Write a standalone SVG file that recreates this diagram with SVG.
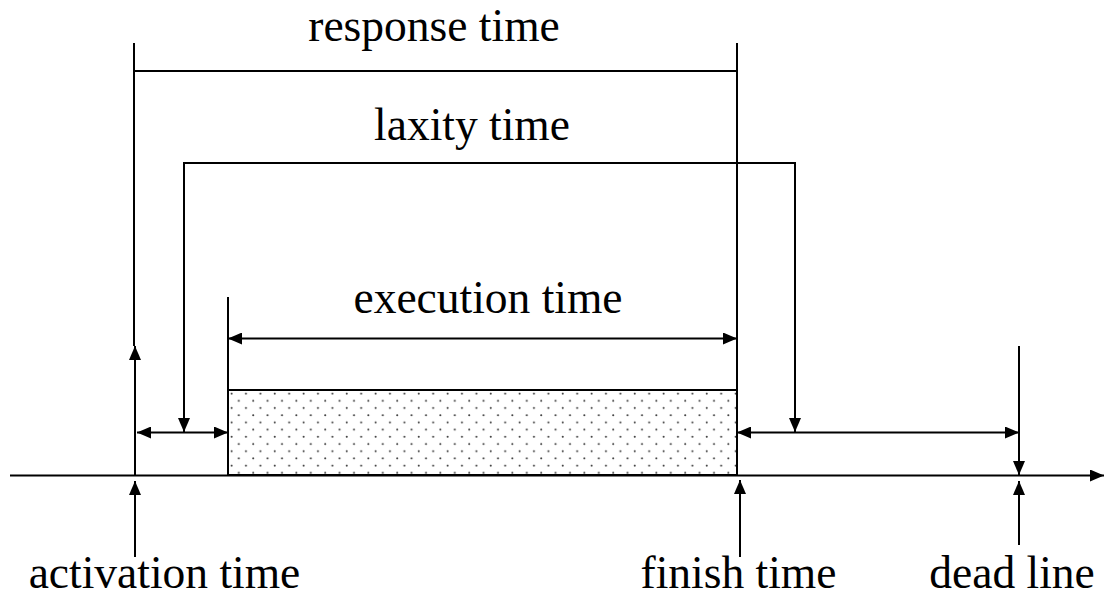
<svg xmlns="http://www.w3.org/2000/svg" width="1105" height="598" viewBox="0 0 1105 598">
  <style>
    .ln { stroke: #000; stroke-width: 2; fill: none; }
    .lbl { font-size: 45.5px; fill: #000; text-anchor: middle; }
  </style>
  <defs>
    <marker id="ah" viewBox="0 0 14 12" refX="14" refY="6" markerWidth="14" markerHeight="12" markerUnits="userSpaceOnUse" orient="auto-start-reverse">
      <path d="M0,0 L14,6 L0,12 Z" fill="#000"/>
    </marker>
    <pattern id="dots" x="228" y="390" width="14.4" height="14.4" patternUnits="userSpaceOnUse">
      <circle cx="3.6" cy="3.6" r="1" fill="#333"/>
      <circle cx="10.8" cy="10.8" r="1" fill="#333"/>
    </pattern>
  </defs>

  <!-- execution block -->
  <g id="execution-block">
    <rect x="228" y="390" width="509" height="85" fill="url(#dots)" stroke="#000" stroke-width="2"/>
  </g>

  <g id="connectors">
    <!-- time axis -->
    <line class="ln" x1="10" y1="475.5" x2="1104" y2="475.5" marker-end="url(#ah)"/>

    <!-- response time bracket -->
    <polyline class="ln" points="134,43 134,71 737,71"/>
    <line class="ln" x1="134" y1="71" x2="134" y2="346"/>
    <line class="ln" x1="737" y1="43" x2="737" y2="475"/>

    <!-- activation marker above axis -->
    <line class="ln" x1="135" y1="475" x2="135" y2="346" marker-end="url(#ah)"/>

    <!-- laxity time bracket -->
    <polyline class="ln" points="184,432 184,163 795,163 795,432" marker-start="url(#ah)" marker-end="url(#ah)"/>

    <!-- gap before execution -->
    <line class="ln" x1="137" y1="432.5" x2="228" y2="432.5" marker-start="url(#ah)" marker-end="url(#ah)"/>

    <!-- execution time -->
    <line class="ln" x1="228" y1="297" x2="228" y2="390"/>
    <line class="ln" x1="228" y1="338.5" x2="737" y2="338.5" marker-start="url(#ah)" marker-end="url(#ah)"/>

    <!-- slack after finish -->
    <line class="ln" x1="737" y1="432.5" x2="1019" y2="432.5" marker-start="url(#ah)" marker-end="url(#ah)"/>

    <!-- dead line marker -->
    <line class="ln" x1="1019" y1="346" x2="1019" y2="475" marker-end="url(#ah)"/>

    <!-- pointers from labels -->
    <line class="ln" x1="135" y1="557" x2="135" y2="481" marker-end="url(#ah)"/>
    <line class="ln" x1="740" y1="557" x2="740" y2="480" marker-end="url(#ah)"/>
    <line class="ln" x1="1019" y1="545" x2="1019" y2="481" marker-end="url(#ah)"/>
  </g>

  <g font-family="'Liberation Serif', 'DejaVu Serif', serif">
    <g id="label-response"><text class="lbl" x="434" y="41">response time</text></g>
    <g id="label-laxity"><text class="lbl" x="472" y="140">laxity time</text></g>
    <g id="label-execution"><text class="lbl" x="488" y="313">execution time</text></g>
    <g id="label-activation"><text class="lbl" x="164.5" y="588">activation time</text></g>
    <g id="label-finish"><text class="lbl" x="738.5" y="588">finish time</text></g>
    <g id="label-deadline"><text class="lbl" x="1012" y="588">dead line</text></g>
  </g>
</svg>
